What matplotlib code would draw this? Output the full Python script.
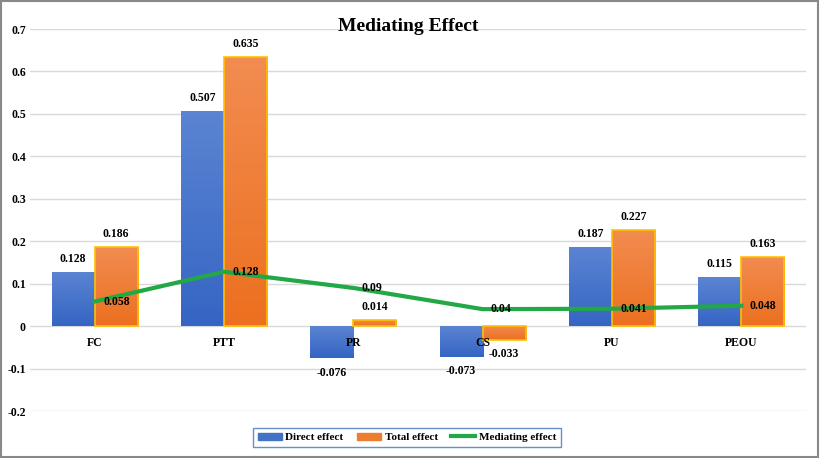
import matplotlib
matplotlib.use("Agg")
import matplotlib.pyplot as plt
import numpy as np
from matplotlib.patches import Rectangle
from matplotlib.lines import Line2D
from matplotlib.colors import LinearSegmentedColormap

categories = ["FC", "PTT", "PR", "CS", "PU", "PEOU"]
direct = [0.128, 0.507, -0.076, -0.073, 0.187, 0.115]
total = [0.186, 0.635, 0.014, -0.033, 0.227, 0.163]
mediating = [0.058, 0.128, 0.09, 0.04, 0.041, 0.048]
yticks = [-0.2, -0.1, 0, 0.1, 0.2, 0.3, 0.4, 0.5, 0.6, 0.7]
ytick_labels = ["-0.2", "-0.1", "0", "0.1", "0.2", "0.3", "0.4", "0.5", "0.6", "0.7"]

plt.rcParams['font.family'] = ['Liberation Serif', 'DejaVu Serif']
plt.rcParams['font.weight'] = 'bold'

fig = plt.figure(figsize=(8.22, 4.58), dpi=100)
ax = fig.add_axes([0.0365, 0.1026, 0.944, 0.834])

x = np.arange(len(categories))
w = 0.333
blue = "#4472c4"
orange = "#ed7d31"
green = "#22a845"
blue_cmap = LinearSegmentedColormap.from_list("b", ["#3565c4", "#5b84d2"])
orange_cmap = LinearSegmentedColormap.from_list("o", ["#ec7020", "#f28c50"])

bd = ax.bar(x - w/2, direct, w, color=blue, zorder=2, label="Direct effect")
bt = ax.bar(x + w/2, total, w, color=orange, edgecolor="#ffc000", linewidth=1.2, zorder=2, label="Total effect")

grad = np.linspace(0, 1, 64).reshape(-1, 1)
for bars, cmap in ((bd, blue_cmap), (bt, orange_cmap)):
    for b in bars:
        x0, y0 = b.get_x(), b.get_y()
        bw, bh = b.get_width(), b.get_height()
        ylo, yhi = min(y0, y0 + bh), max(y0, y0 + bh)
        im = ax.imshow(grad, cmap=cmap, aspect="auto", origin="lower",
                       extent=(x0, x0 + bw, ylo, yhi), zorder=2.1, interpolation="bilinear")
        im.set_clip_path(b)
for b in bt:
    b.set_facecolor("none")
    b.set_zorder(2.2)

ax.plot(x, mediating, color=green, linewidth=3, zorder=3, label="Mediating effect")

for xi, v in zip(x - w/2, direct):
    ax.annotate(f"{v:g}", (xi, v), xytext=(0, 5 if v >= 0 else -6), textcoords="offset points",
                ha="center", va="bottom" if v >= 0 else "top", fontsize=8.5, fontweight="bold")
for xi, v in zip(x + w/2, total):
    ax.annotate(f"{v:g}", (xi, v), xytext=(0, 5 if v >= 0 else -6), textcoords="offset points",
                ha="center", va="bottom" if v >= 0 else "top", fontsize=8.5, fontweight="bold")
for xi, v in zip(x, mediating):
    ax.annotate(f"{v:g}", (xi, v), xytext=(6, 0), textcoords="offset points",
                ha="left", va="center", fontsize=8.5, fontweight="bold", zorder=4)

ax.set_xlim(-0.5, len(categories) - 0.5)
ax.set_ylim(-0.2, 0.7)
ax.set_yticks(yticks)
ax.set_yticklabels(ytick_labels, fontsize=8.5, fontweight="bold")
ax.set_xticks([])
for xi, c in zip(x, categories):
    ax.annotate(c, (xi, 0), xytext=(0, -8), textcoords="offset points", ha="center", va="top",
                fontsize=8.5, fontweight="bold", zorder=4)
ax.tick_params(axis="y", length=0, pad=3)
ax.grid(axis="y", color="#d9d9d9", linewidth=1, zorder=0)
for s in ax.spines.values():
    s.set_visible(False)

fig.text(0.497, 0.942, "Mediating Effect", ha="center", va="center", fontsize=14, fontweight="bold")

handles = [Rectangle((0, 0), 1, 1, color=blue), Rectangle((0, 0), 1, 1, color=orange),
           Line2D([], [], color=green, linewidth=3)]
leg = fig.legend(handles, ["Direct effect", "Total effect", "Mediating effect"], loc="center",
                 bbox_to_anchor=(0.495, 0.045), ncol=3, fontsize=8, frameon=True, fancybox=False,
                 handlelength=2.2, handleheight=0.7, handletextpad=0.3, columnspacing=1.2, borderpad=0.45)
leg.get_frame().set_edgecolor("#4472c4")
leg.get_frame().set_linewidth(1)

fig.patches.append(Rectangle((0.001, 0.003), 0.994, 0.994, transform=fig.transFigure,
                             fill=False, edgecolor="#888888", linewidth=1.5))

fig.savefig("out.png", dpi=100)
